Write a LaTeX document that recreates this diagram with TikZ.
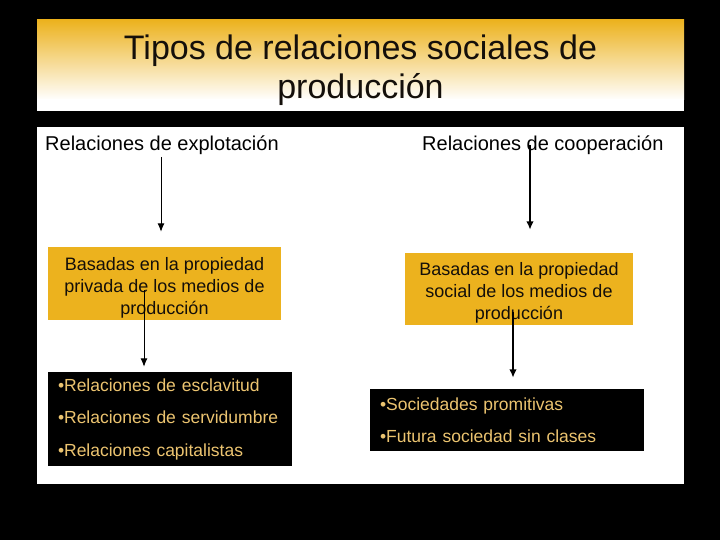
\documentclass[tikz,border=0pt]{standalone}
\usepackage{fontspec}
\setmainfont{Liberation Sans}
\usetikzlibrary{arrows.meta}
\definecolor{gold}{RGB}{236,178,30}
\definecolor{tanc}{RGB}{236,196,112}
\definecolor{ink}{RGB}{20,15,10}
\begin{document}
\begin{tikzpicture}[x=1pt,y=-1pt,
  hdr/.style={inner sep=0pt,font=\fontsize{20}{24}\selectfont,anchor=base west,text=black},
  gbox/.style={fill=gold,inner sep=0pt,align=center,text=ink,font=\fontsize{18}{22}\selectfont},
  kbox/.style={fill=black,inner xsep=10pt,inner ysep=0pt,align=left,text=tanc,font=\fontsize{17.5}{32.5}\selectfont},
  arr/.style={-{Latex[length=8.5pt,width=7pt]},line width=1pt},
  arrb/.style={-{Latex[length=8.5pt,width=7.5pt]},line width=1.8pt}]
\fill[black] (0,0) rectangle (720,540);
\useasboundingbox (0,0) rectangle (720,540);
% title panel
\shade[top color=gold,bottom color=white] (37,20) rectangle (684,100);
\fill[white] (37,99.5) rectangle (684,111);
\node[font=\fontsize{34}{39}\selectfont,align=center,text=ink,inner sep=0pt] (title) at (360.5,70) {Tipos de relaciones sociales de\\producción};
% content panel
\fill[white] (37,127) rectangle (684,484);
\node[hdr] (h1) at (45,151) {Relaciones de explotación};
\node[hdr] (h2) at (422,151) {Relaciones de cooperación};
\node[gbox,minimum width=233pt,minimum height=73pt] (b1) at (164.5,283.5) {\rule{0pt}{21pt}Basadas en la propiedad\\privada de los medios de\\producción};
\node[gbox,minimum width=228pt,minimum height=72pt] (b2) at (519,289) {\rule{0pt}{21pt}Basadas en la propiedad\\social de los medios de\\producción};
\node[kbox,text width=224pt,minimum height=94pt] (k1) at (170,419) {•Relaciones de esclavitud\\•Relaciones de servidumbre\\•Relaciones capitalistas};
\node[kbox,text width=254pt,minimum height=62pt] (k2) at (507,420) {•Sociedades promitivas\\•Futura sociedad sin clases};
% connectors
\coordinate (s1) at (161,157);
\coordinate (s2) at (530,145);
\coordinate (s3) at (144,290);
\coordinate (s4) at (513,312);
\draw[arr,shorten >=15pt] (s1) -- (s1 |- b1.north);
\draw[arrb,shorten >=23pt] (s2) -- (s2 |- b2.north);
\draw[arr,shorten >=5pt] (s3) -- (s3 |- k1.north);
\draw[arrb,shorten >=11pt] (s4) -- (s4 |- k2.north);
\end{tikzpicture}
\end{document}
